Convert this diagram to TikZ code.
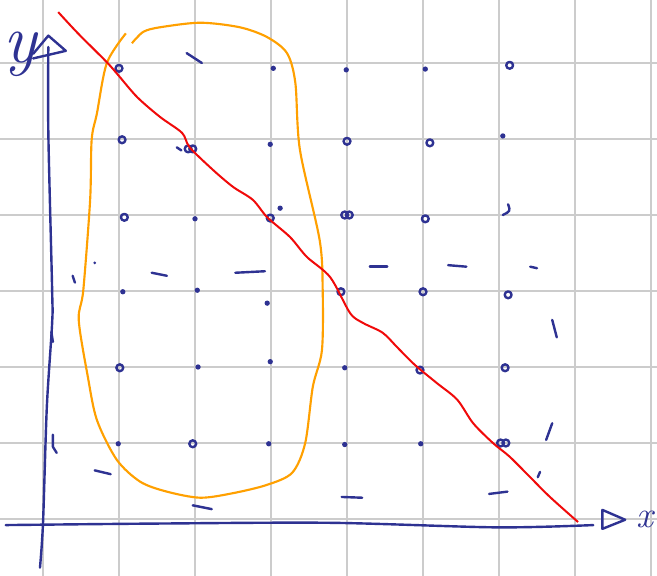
\documentclass[tikz,border=0pt]{standalone}
\usepackage{tikz}
\usetikzlibrary{arrows.meta}

\definecolor{inkblue}{RGB}{46,50,146}
\definecolor{penorange}{RGB}{255,160,0}
\definecolor{penred}{RGB}{240,10,10}

\tikzset{
  ink/.style={draw=inkblue, line width=0.9pt, line cap=round, line join=round},
  blob/.style={fill=inkblue},
}

\begin{document}
\begin{tikzpicture}
    % Rahmen + Raster
    \useasboundingbox (-0.566,-0.737) rectangle (8.079,6.829);
    \clip (-0.566,-0.737) rectangle (8.079,6.829);
    \foreach \i in {0,...,8}
        \draw[gray!40, line width=0.9pt] (\i,-0.8) -- (\i,6.9);
    \foreach \j in {0,...,6}
        \draw[gray!40, line width=0.9pt] (-0.6,\j) -- (8.1,\j);

    % Achsen (von Hand)
    \draw[ink] plot[smooth] coordinates {(-0.04,-0.64) (0,-0.05) (0.05,1.47) (0.12,2.58) (0.12,3.01) (0.07,5.08) (0.07,6.21)};
    \draw[ink] (-0.13,6.12) -- (0.07,6.36) -- (0.30,6.16) -- (-0.13,6.06);
    \draw[ink] plot[smooth] coordinates {(-0.49,-0.08) (1.5,-0.06) (3.78,-0.05) (5.97,-0.11) (7.24,-0.08)};
    \draw[ink] (7.36,0.12) -- (7.36,-0.13) -- (7.66,-0.01) -- cycle;
    \node[inkblue, font=\fontsize{26}{26}\selectfont\itshape] (ylab) at (-0.30,6.12) {y};
    \node[inkblue, inner sep=0pt, font=\fontsize{14}{14}\selectfont\itshape] (xlab) at (7.92,0.0) {x};

    % Punkte an den Gitterpunkten
    \foreach \x/\y in {1.0/5.93, 6.14/5.97, 1.04/4.99, 4.0/4.97, 5.09/4.95, 1.91/4.87, 1.97/4.87,
                       1.07/3.97, 2.99/3.96, 3.97/4.0, 4.03/4.0, 1.01/1.99, 6.08/1.99, 1.97/0.99,
                       6.02/1.0, 5.03/3.95, 3.92/2.99, 5.0/2.99, 6.12/2.95, 4.96/1.96, 6.09/1.0}
        \draw[ink] (\x,\y) circle (0.045);
    \foreach \x/\y in {3.03/5.93, 5.03/5.92, 3.99/5.91, 2.99/4.93, 2.0/3.95, 3.12/4.09, 1.05/2.99,
                       2.03/3.01, 2.95/2.84, 2.04/2.0, 2.99/2.07, 3.97/1.99, 0.99/0.99, 2.97/0.99,
                       3.97/0.98, 4.97/0.99, 6.05/5.04}
        \fill[blob] (\x,\y) circle (0.035);
    \draw[ink] (6.05,4.0) .. controls (6.15,4.05) .. (6.12,4.14);

    % kleine Striche
    \draw[ink] (1.89,6.13) -- (2.09,6.0);
    \draw[ink] (1.76,4.89) -- (1.82,4.85);
    \draw[ink] (1.43,3.24) -- (1.63,3.2);
    \draw[ink] (2.53,3.24) -- (2.92,3.26);
    \draw[ink] (4.30,3.32) -- (4.53,3.32);
    \draw[ink] (5.33,3.34) -- (5.57,3.32);
    \draw[ink] (6.41,3.32) -- (6.50,3.30);
    \draw[ink] (0.39,3.20) -- (0.42,3.11);
    \fill[blob] (0.68,3.37) circle (0.02);
    \draw[ink] (6.70,2.62) -- (6.76,2.39);
    \draw[ink] (0.11,2.46) -- (0.13,2.33);
    \draw[ink] (6.70,1.26) -- (6.62,1.04);
    \draw[ink] (6.54,0.62) -- (6.51,0.55);
    \draw[ink] (0.13,1.11) -- (0.13,0.95) -- (0.18,0.87);
    \draw[ink] (0.68,0.64) -- (0.89,0.59);
    \draw[ink] (1.97,0.18) -- (2.22,0.13);
    \draw[ink] (3.93,0.29) -- (4.20,0.28);
    \draw[ink] (5.87,0.33) -- (6.11,0.36);

    % orange Schleife
    \draw[penorange, line width=0.8pt] plot[smooth] coordinates {
        (1.09,6.39) (0.84,6.00) (0.71,5.34) (0.64,4.99) (0.62,4.20) (0.53,3.01) (0.47,2.62)
        (0.59,1.87) (0.71,1.30) (0.97,0.78) (1.28,0.49) (1.63,0.36) (2.07,0.28) (2.50,0.34)
        (2.95,0.45) (3.28,0.61) (3.45,1.00) (3.55,1.74) (3.67,2.22) (3.68,3.01) (3.64,3.67)
        (3.38,4.86) (3.32,5.74) (3.21,6.13) (2.95,6.34) (2.59,6.47) (2.07,6.53) (1.54,6.47)
        (1.32,6.41) (1.17,6.26)};

    % rote Linie
    \draw[penred, line width=0.75pt] plot[smooth] coordinates {
        (0.20,6.67) (0.46,6.39) (0.84,6.01) (0.99,5.84) (1.24,5.55) (1.54,5.29) (1.83,5.08)
        (1.93,4.89) (2.24,4.59) (2.50,4.37) (2.76,4.20) (2.95,3.97) (3.25,3.71) (3.47,3.45)
        (3.78,3.18) (4.04,2.71) (4.21,2.58) (4.47,2.45) (4.66,2.26) (4.89,2.03) (5.18,1.79)
        (5.45,1.57) (5.66,1.26) (5.92,1.00) (6.14,0.82) (6.41,0.55) (6.67,0.29) (7.04,-0.04)};
\end{tikzpicture}
\end{document}
